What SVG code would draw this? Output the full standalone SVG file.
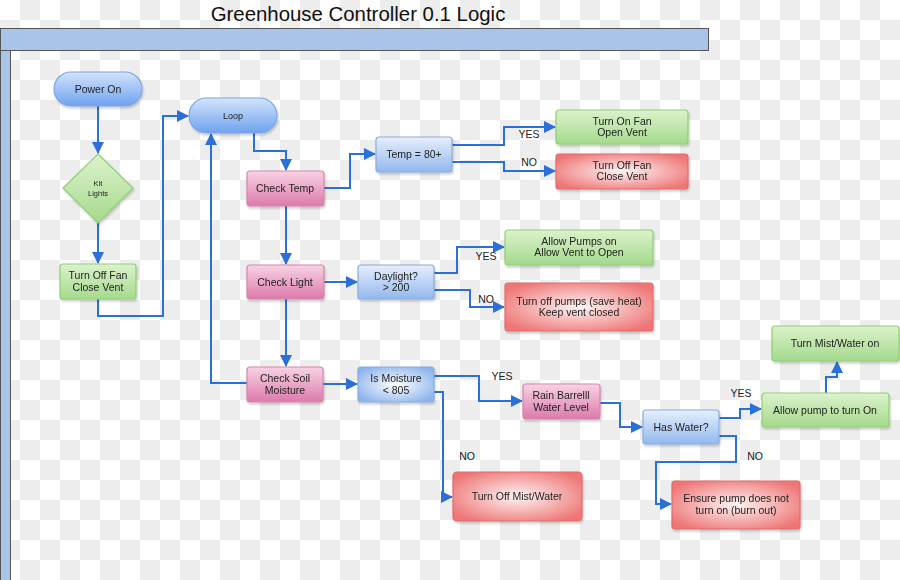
<svg xmlns="http://www.w3.org/2000/svg" width="900" height="580" viewBox="0 0 900 580">
<style>
text{font-family:"Liberation Sans",Arial,sans-serif;font-size:10.5px;fill:#222;text-anchor:middle}
.title{font-size:20.4px;fill:#111}
.lbl{font-size:10.5px;fill:#222}
.conn{fill:none;stroke:#2b6fd8;stroke-width:2}
.blue{fill:url(#gBlue);stroke:#86ace3;stroke-width:1.2}
.sblue{fill:url(#gStad);stroke:#7aa6e6;stroke-width:1.2}
.pink{fill:url(#gPink);stroke:#d784ad;stroke-width:1.2}
.green{fill:url(#gGreen);stroke:#8fcf73;stroke-width:1.2}
.red{fill:url(#gRed);stroke:#e46a6a;stroke-width:1.2}
.rblue{fill:url(#gRBlue);stroke:#86ace3;stroke-width:1.2}
.node{filter:url(#sh)}
</style>
<defs>
<pattern id="chk" width="40" height="40" patternUnits="userSpaceOnUse">
<rect width="40" height="40" fill="#ffffff"/>
<rect x="20" y="0" width="20" height="20" fill="#ededed"/>
<rect x="0" y="20" width="20" height="20" fill="#ededed"/>
</pattern>
<linearGradient id="gBlue" x1="0" y1="0" x2="0" y2="1"><stop offset="0" stop-color="#e6effc"/><stop offset="1" stop-color="#93b8ee"/></linearGradient>
<linearGradient id="gStad" x1="0" y1="0" x2="0" y2="1"><stop offset="0" stop-color="#d3e4fc"/><stop offset="1" stop-color="#6fa2ef"/></linearGradient>
<linearGradient id="gPink" x1="0" y1="0" x2="0" y2="1"><stop offset="0" stop-color="#f8d3e4"/><stop offset="1" stop-color="#dc7aaa"/></linearGradient>
<linearGradient id="gGreen" x1="0" y1="0" x2="0" y2="1"><stop offset="0" stop-color="#dcf2cc"/><stop offset="1" stop-color="#a4da8c"/></linearGradient>
<radialGradient id="gRed" cx="0.5" cy="0.5" r="0.6"><stop offset="0" stop-color="#fff4f4"/><stop offset="1" stop-color="#ee7676"/></radialGradient>
<radialGradient id="gRBlue" cx="0.5" cy="0.5" r="0.6"><stop offset="0" stop-color="#ffffff"/><stop offset="1" stop-color="#8db4ec"/></radialGradient>
<filter id="sh" x="-10%" y="-10%" width="130%" height="140%"><feDropShadow dx="1" dy="2" stdDeviation="1.2" flood-color="#000" flood-opacity="0.2"/></filter>
<marker id="ar" markerUnits="userSpaceOnUse" markerWidth="12" markerHeight="12" refX="11" refY="6" orient="auto"><path d="M0,0 L12,6 L0,12 z" fill="#2b6fd8"/></marker>
</defs>
<rect width="900" height="580" fill="url(#chk)"/>
<text class="title" x="358" y="21">Greenhouse Controller 0.1 Logic</text>
<rect x="0.5" y="28.5" width="708" height="22" fill="#a9c4e9" stroke="#555" stroke-width="1"/>
<rect x="0.5" y="50.5" width="10" height="530" fill="#a9c4e9" stroke="#555" stroke-width="1"/>

<g id="connectors">
<path class="conn" d="M98,106 V153" marker-end="url(#ar)"/>
<path class="conn" d="M98,223 V263" marker-end="url(#ar)"/>
<path class="conn" d="M98,299 V316 H163 V116 H188" marker-end="url(#ar)"/>
<path class="conn" d="M254,133 V151 H286 V170" marker-end="url(#ar)"/>
<path class="conn" d="M286,206 V264" marker-end="url(#ar)"/>
<path class="conn" d="M286,299 V366" marker-end="url(#ar)"/>
<path class="conn" d="M248,383 H211 V134" marker-end="url(#ar)"/>
<path class="conn" d="M324,188 H350 V154 H375" marker-end="url(#ar)"/>
<path class="conn" d="M452,145 H504 V127 H555" marker-end="url(#ar)"/>
<path class="conn" d="M452,162 H504 V171 H555" marker-end="url(#ar)"/>
<path class="conn" d="M324,282 H357" marker-end="url(#ar)"/>
<path class="conn" d="M434,273 H457 V247 H504" marker-end="url(#ar)"/>
<path class="conn" d="M434,290 H470 V307 H504" marker-end="url(#ar)"/>
<path class="conn" d="M323,384 H357" marker-end="url(#ar)"/>
<path class="conn" d="M434,376 H479 V401 H522" marker-end="url(#ar)"/>
<path class="conn" d="M434,392 H443 V497 H452" marker-end="url(#ar)"/>
<path class="conn" d="M600,403 H620 V427 H642" marker-end="url(#ar)"/>
<path class="conn" d="M719,418 H740 V409 H761" marker-end="url(#ar)"/>
<path class="conn" d="M719,436 H736 V462 H656 V504 H671" marker-end="url(#ar)"/>
<path class="conn" d="M826,393 V377 H837 V362" marker-end="url(#ar)"/>
<text class="lbl" x="529" y="138">YES</text>
<text class="lbl" x="529" y="166">NO</text>
<text class="lbl" x="486" y="260">YES</text>
<text class="lbl" x="486" y="303">NO</text>
<text class="lbl" x="502" y="380">YES</text>
<text class="lbl" x="467" y="460">NO</text>
<text class="lbl" x="741" y="397">YES</text>
<text class="lbl" x="755" y="460">NO</text>
</g>

<g id="power-on" class="node"><rect class="sblue" x="54" y="72" width="88" height="34" rx="17"/><text x="98" y="93">Power On</text></g>
<g id="kit-lights" class="node"><path class="green" d="M98,154 L133,188 L98,223 L63,188 Z"/><text x="98" y="186" style="font-size:7.5px">Kit</text><text x="98" y="196" style="font-size:7.5px">Lights</text></g>
<g id="turn-off-fan-init" class="node"><rect class="green" x="60" y="264" width="76" height="35" rx="3"/><text x="98" y="279">Turn Off Fan</text><text x="98" y="291">Close Vent</text></g>
<g id="loop" class="node"><rect class="sblue" x="189" y="98" width="88" height="35" rx="17.5"/><text x="233" y="119" style="font-size:9px">Loop</text></g>
<g id="check-temp" class="node"><rect class="pink" x="247" y="171" width="77" height="35" rx="3"/><text x="285" y="192">Check Temp</text></g>
<g id="check-light" class="node"><rect class="pink" x="247" y="265" width="77" height="34" rx="3"/><text x="285" y="286">Check Light</text></g>
<g id="check-soil" class="node"><rect class="pink" x="247" y="367" width="76" height="35" rx="3"/><text x="285" y="382">Check Soil</text><text x="285" y="394">Moisture</text></g>
<g id="temp-80" class="node"><rect class="blue" x="376" y="137" width="76" height="35" rx="3"/><text x="414" y="158">Temp = 80+</text></g>
<g id="turn-on-fan" class="node"><rect class="green" x="556" y="110" width="132" height="34" rx="3"/><text x="622" y="125">Turn On Fan</text><text x="622" y="136">Open Vent</text></g>
<g id="turn-off-fan" class="node"><rect class="red" x="556" y="154" width="132" height="35" rx="3"/><text x="622" y="169">Turn Off Fan</text><text x="622" y="180">Close Vent</text></g>
<g id="daylight" class="node"><rect class="blue" x="358" y="265" width="76" height="34" rx="3"/><text x="396" y="280">Daylight?</text><text x="396" y="291">&gt; 200</text></g>
<g id="allow-pumps" class="node"><rect class="green" x="505" y="230" width="148" height="35" rx="3"/><text x="579" y="245">Allow Pumps on</text><text x="579" y="256">Allow Vent to Open</text></g>
<g id="turn-off-pumps" class="node"><rect class="red" x="505" y="283" width="148" height="48" rx="3"/><text x="579" y="305">Turn off pumps (save heat)</text><text x="579" y="316">Keep vent closed</text></g>
<g id="is-moisture" class="node"><rect class="rblue" x="358" y="367" width="76" height="35" rx="3"/><text x="396" y="382">Is Moisture</text><text x="396" y="394">&lt; 805</text></g>
<g id="rain-barrel" class="node"><rect class="pink" x="523" y="384" width="77" height="35" rx="3"/><text x="561" y="399">Rain Barrelll</text><text x="561" y="411">Water Level</text></g>
<g id="turn-off-mist" class="node"><rect class="red" x="453" y="472" width="129" height="49" rx="4"/><text x="517" y="500">Turn Off Mist/Water</text></g>
<g id="has-water" class="node"><rect class="blue" x="643" y="410" width="76" height="34" rx="3"/><text x="681" y="431">Has Water?</text></g>
<g id="allow-pump" class="node"><rect class="green" x="762" y="393" width="127" height="34" rx="3"/><text x="825" y="414">Allow pump to turn On</text></g>
<g id="turn-mist-on" class="node"><rect class="green" x="772" y="326" width="127" height="35" rx="3"/><text x="835" y="347">Turn Mist/Water on</text></g>
<g id="ensure-pump" class="node"><rect class="red" x="672" y="481" width="128" height="48" rx="3"/><text x="736" y="502">Ensure pump does not</text><text x="736" y="514">turn on (burn out)</text></g>
</svg>
